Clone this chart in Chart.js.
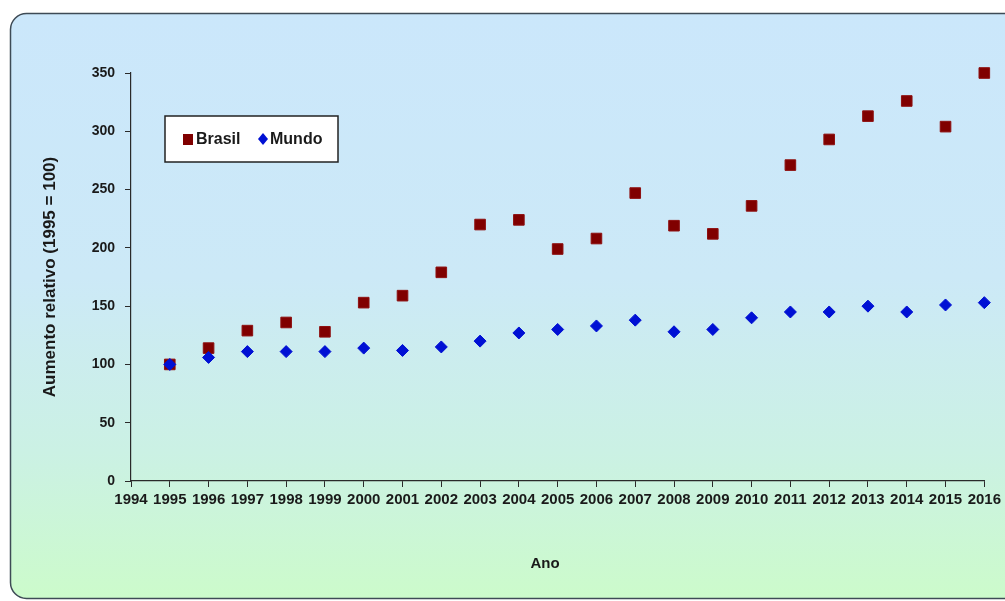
<!DOCTYPE html>
<html>
<head>
<meta charset="utf-8">
<script src="https://cdn.jsdelivr.net/npm/chart.js@4.4.1/dist/chart.umd.min.js"></script>
<style>
  html, body { margin: 0; padding: 0; background: #ffffff; }
  #wrap { width: 1005px; height: 601px; }
</style>
</head>
<body>
<div id="wrap"><canvas id="chart" width="1005" height="601"></canvas></div>
<script>
// Relative growth index, 1995 = 100
const years  = [1995, 1996, 1997, 1998, 1999, 2000, 2001, 2002, 2003, 2004, 2005,
                2006, 2007, 2008, 2009, 2010, 2011, 2012, 2013, 2014, 2015, 2016];
const brasil = [100, 114, 129, 136, 128, 153, 159, 179, 220, 224, 199,
                208, 247, 219, 212, 236, 271, 293, 313, 326, 304, 350];
const mundo  = [100, 106, 111, 111, 111, 114, 112, 115, 120, 127, 130,
                133, 138, 128, 130, 140, 145, 145, 150, 145, 151, 153];

const xRange = [1994, 2016];
const yRange = [0, 350];
const yStep = 50;

const seriesNames = ['Brasil', 'Mundo'];
const yTitle = 'Aumento relativo (1995 = 100)';
const xTitle = 'Ano';

const BRASIL_COLOR = '#800000';
const MUNDO_COLOR = '#0010d4';
const FONT = "'Liberation Sans', Arial, Helvetica, sans-serif";

// Rounded panel with a blue-to-green gradient behind the plot
const panelBackground = {
  id: 'panelBackground',
  beforeDraw(chart) {
    const ctx = chart.ctx;
    const w = chart.width, h = chart.height;
    ctx.save();
    ctx.fillStyle = '#ffffff';
    ctx.fillRect(0, 0, w, h);
    const g = ctx.createLinearGradient(0, 14, 0, 598);
    g.addColorStop(0, '#cbe7fb');
    g.addColorStop(0.45, '#cce9f7');
    g.addColorStop(0.75, '#cbf1e4');
    g.addColorStop(1, '#ccfbcb');
    ctx.beginPath();
    ctx.roundRect(10.5, 13.5, w + 20, 585, 16);
    ctx.fillStyle = g;
    ctx.fill();
    ctx.lineWidth = 1.5;
    ctx.strokeStyle = '#3e4b56';
    ctx.stroke();
    ctx.restore();
  }
};

// Boxed legend inside the plot plus the horizontal axis caption
const boxedLegend = {
  id: 'boxedLegend',
  afterDraw(chart) {
    const ctx = chart.ctx;
    ctx.save();
    ctx.fillStyle = '#ffffff';
    ctx.strokeStyle = '#222222';
    ctx.lineWidth = 1.5;
    ctx.fillRect(165, 116, 173, 46);
    ctx.strokeRect(165, 116, 173, 46);

    const cy = 139;
    // Brasil marker
    ctx.fillStyle = BRASIL_COLOR;
    ctx.fillRect(183, cy - 5, 10, 11);
    // Mundo marker
    ctx.fillStyle = MUNDO_COLOR;
    ctx.beginPath();
    ctx.moveTo(263, cy - 6);
    ctx.lineTo(268, cy);
    ctx.lineTo(263, cy + 6);
    ctx.lineTo(258, cy);
    ctx.closePath();
    ctx.fill();

    ctx.fillStyle = '#1a1a1a';
    ctx.font = 'bold 16px ' + FONT;
    ctx.textBaseline = 'middle';
    ctx.textAlign = 'left';
    ctx.fillText(seriesNames[0], 196, cy + 1);
    ctx.fillText(seriesNames[1], 270, cy + 1);

    ctx.font = 'bold 15px ' + FONT;
    ctx.textAlign = 'center';
    ctx.fillText(xTitle, 545, 564);
    ctx.restore();
  }
};

const toPoints = (vals) => years.map((y, i) => ({ x: y, y: vals[i] }));

new Chart(document.getElementById('chart'), {
  type: 'scatter',
  data: {
    datasets: [
      {
        label: seriesNames[0],
        data: toPoints(brasil),
        pointStyle: 'rect',
        pointRadius: 7.5,
        backgroundColor: BRASIL_COLOR,
        borderColor: '#8e1010',
        borderWidth: 1,
        clip: false,
        order: 1
      },
      {
        label: seriesNames[1],
        data: toPoints(mundo),
        pointStyle: 'rectRot',
        pointRadius: 6,
        backgroundColor: MUNDO_COLOR,
        borderColor: MUNDO_COLOR,
        borderWidth: 1,
        clip: false,
        order: 0
      }
    ]
  },
  options: {
    responsive: false,
    animation: false,
    layout: { padding: { left: 0, top: 73, right: 17, bottom: 0 } },
    plugins: {
      legend: { display: false },
      tooltip: { enabled: false }
    },
    scales: {
      x: {
        type: 'linear',
        min: xRange[0],
        max: xRange[1],
        afterFit(scale) { scale.height = 120; },
        ticks: {
          stepSize: 1,
          autoSkip: false,
          maxRotation: 0,
          padding: 4,
          color: '#1a1a1a',
          font: { family: FONT, size: 15, weight: 'bold' },
          callback: (v) => String(v)
        },
        grid: {
          display: true,
          drawOnChartArea: false,
          drawTicks: true,
          tickLength: 6,
          color: '#2a2a2a'
        },
        border: { display: true, color: '#2a2a2a', width: 1.2 }
      },
      y: {
        min: yRange[0],
        max: yRange[1],
        afterFit(scale) { scale.width = 131; },
        ticks: {
          stepSize: yStep,
          padding: 10,
          color: '#1a1a1a',
          font: { family: FONT, size: 14, weight: 'bold' }
        },
        grid: {
          display: true,
          drawOnChartArea: false,
          drawTicks: true,
          tickLength: 6,
          color: '#2a2a2a'
        },
        border: { display: true, color: '#2a2a2a', width: 1.2 },
        title: {
          display: true,
          text: yTitle,
          color: '#1a1a1a',
          font: { family: FONT, size: 17, weight: 'bold' },
          padding: { top: 40, bottom: 0 }
        }
      }
    }
  },
  plugins: [panelBackground, boxedLegend]
});
</script>
</body>
</html>
